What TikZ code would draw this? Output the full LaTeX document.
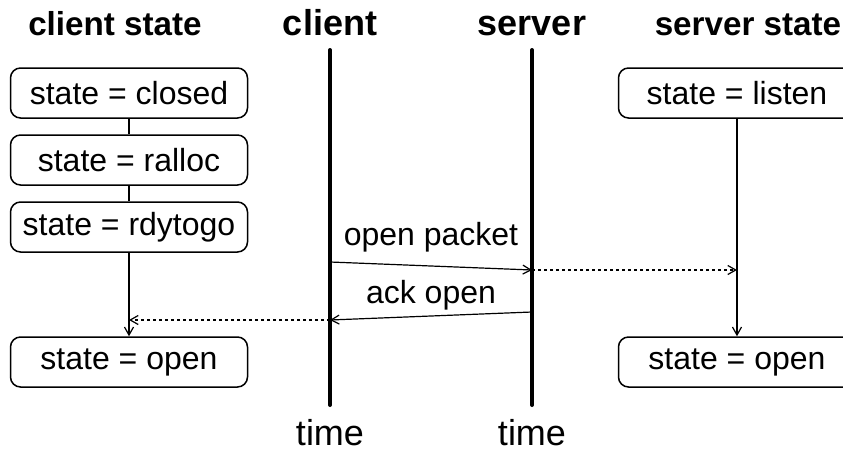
\documentclass[tikz,border=0pt]{standalone}
\usepackage{fontspec}
\setmainfont{Liberation Sans}
\usetikzlibrary{arrows.meta}
\newcommand{\boxFont}[0]{\fontsize{16}{19}\selectfont}
\newcommand{\stateHeadFont}[0]{\fontsize{16.6}{20}\selectfont\bfseries}
\newcommand{\hostFont}[0]{\fontsize{18}{22}\selectfont}
\newcommand{\msgWidth}[0]{0.6pt}

\begin{document}
\begin{tikzpicture}[x=0.5pt, y=-0.5pt]
  \tikzset{state box/.style={draw, line width=0.75pt, rounded corners=5pt, minimum width=118.5pt, minimum height=25pt, inner sep=0pt, font=\boxFont}}
  \tikzset{msg/.style={line width=\msgWidth, -{Straight Barb[length=4pt,width=4.5pt]}}}
  \tikzset{relay/.style={msg, dash pattern=on 1.5pt off 1.5pt}}
  \useasboundingbox (0,0) rectangle (843,450);
  \clip (0,0) rectangle (843,450);
  % headers
  \node[anchor=base, font=\stateHeadFont] (head-c) at (115,35) {client state};
  \node[anchor=base, font=\hostFont\bfseries] (host-c) at (330,35) {client};
  \node[anchor=base, font=\hostFont\bfseries] (host-s) at (532,35) {server};
  \node[anchor=base, font=\stateHeadFont] (head-s) at (748,35) {server state};
  \node[anchor=base, font=\hostFont] (time-c) at (330,445) {time};
  \node[anchor=base, font=\hostFont] (time-s) at (532,445) {time};
  % client states
  \node[state box] (C-1) at (129,93) {state = closed};
  \node[state box] (C-2) at (129,160) {state = ralloc};
  \node[state box] (C-3) at (129,227) {state = rdytogo};
  \node[state box] (C-4) at (129,362) {state = open};
  % server states
  \node[state box] (S-1) at (737,93) {state = listen};
  \node[state box] (S-2) at (737,362) {state = open};
  % timelines
  \coordinate (line-c-top) at (330,50);
  \coordinate (line-c-bot) at (330,405);
  \coordinate (line-s-top) at (532,50);
  \coordinate (line-s-bot) at (532,405);
  \draw[line width=2pt, line cap=round] (line-c-top) -- (line-c-bot);
  \draw[line width=2pt, line cap=round] (line-s-top) -- (line-s-bot);
  % message ends
  \coordinate (open-1) at (330,262);
  \coordinate (open-2) at (532,270);
  \coordinate (open-3) at (737,270);
  \coordinate (ack-1) at (532,312);
  \coordinate (ack-2) at (330,320);
  \coordinate (ack-3) at (129,320);
  \node[font=\boxFont] (open-lbl) at (431,237) {open packet};
  \node[font=\boxFont] (ack-lbl) at (431,295) {ack open};
  \draw[line width=\msgWidth] (C-1) -- (C-2);
  \draw[line width=\msgWidth] (C-2) -- (C-3);
  \draw[msg] (C-3) -- (C-4);
  \draw[msg] (S-1) -- (S-2);
  \draw[msg] (open-1) -- (open-2);
  \draw[relay] (open-2) -- (open-3);
  \draw[msg] (ack-1) -- (ack-2);
  \draw[relay] (ack-2) -- (ack-3);
\end{tikzpicture}
\end{document}
